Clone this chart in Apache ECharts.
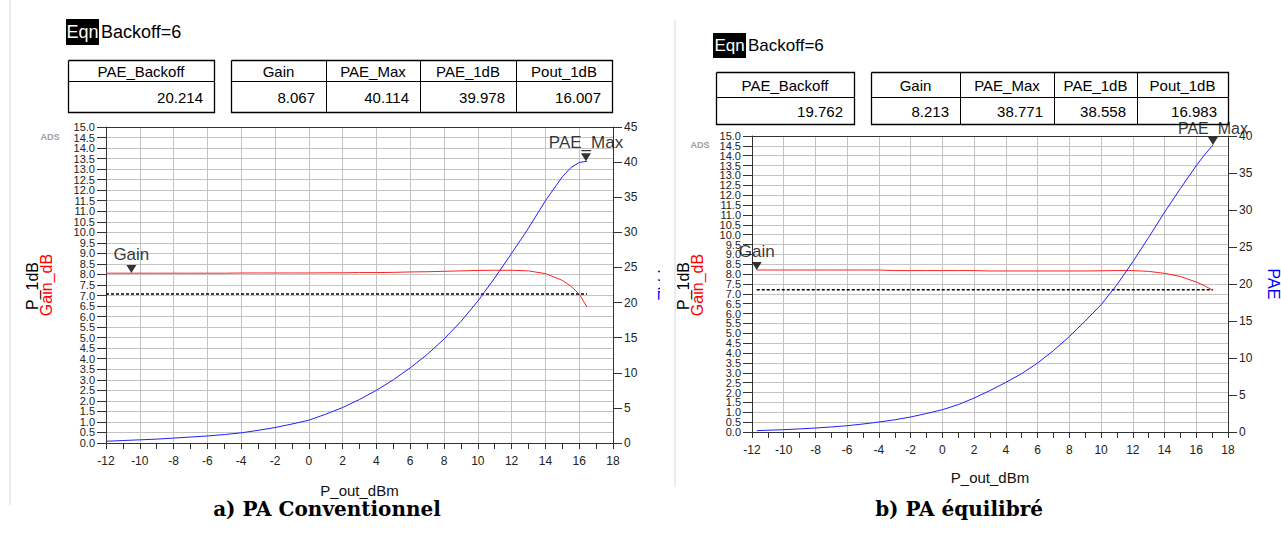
<!DOCTYPE html>
<html><head><meta charset="utf-8">
<script src="https://cdn.jsdelivr.net/npm/echarts@6/dist/echarts.min.js"></script>
<style>html,body{margin:0;padding:0;background:#fff}
#wrap{position:relative;width:1281px;height:550px}
#c1{position:absolute;left:0;top:0;width:660px;height:550px}
#c2{position:absolute;left:660px;top:0;width:621px;height:550px}</style>
</head><body><div id="wrap"><div id="c1"></div><div id="c2"></div></div>
<script>
// ---------- DATA ----------
// Left chart: a) PA Conventionnel
const xL    = [-12,-11,-10,-9,-8,-7,-6,-5,-4,-3,-2,-1,0,1,2,3,4,5,6,7,8,9,10,11,12,13,14,15,15.5,16,16.46];
const gainL = [8.06,8.06,8.06,8.06,8.06,8.06,8.06,8.06,8.07,8.07,8.07,8.07,8.07,8.08,8.08,8.09,8.09,8.1,8.12,8.13,8.15,8.17,8.19,8.2,8.2,8.17,8.04,7.72,7.45,7.07,6.46];
const paeL  = [0.25,0.35,0.45,0.55,0.7,0.85,1.0,1.2,1.45,1.8,2.2,2.7,3.25,4.1,5.05,6.2,7.5,9.0,10.7,12.6,14.8,17.3,20.2,23.5,27.0,30.6,34.5,37.9,39.2,39.95,40.11];
const p1dbL = [[-12,7.067],[16.46,7.067]];
const markL = [{name:'Gain',x:-10.5,y:8.067,axis:0},{name:'PAE_Max',x:16.4,y:40.114,axis:1}];
const tabHeadL1 = ['PAE_Backoff'];
const tabValL1  = ['20.214'];
const tabHeadL2 = ['Gain','PAE_Max','PAE_1dB','Pout_1dB'];
const tabValL2  = ['8.067','40.114','39.978','16.007'];

// Right chart: b) PA équilibré
const xR    = [-11.7,-11,-10,-9,-8,-7,-6,-5,-4,-3,-2,-1,0,1,2,3,4,5,6,7,8,9,10,11,12,13,14,15,16,16.5,17.05];
const gainR = [8.21,8.21,8.21,8.21,8.21,8.21,8.21,8.21,8.21,8.18,8.18,8.18,8.18,8.18,8.18,8.16,8.16,8.16,8.16,8.16,8.16,8.16,8.17,8.18,8.18,8.14,8.04,7.88,7.6,7.42,7.18];
const paeR  = [0.18,0.24,0.31,0.42,0.54,0.68,0.85,1.08,1.35,1.65,2.03,2.5,3.01,3.7,4.59,5.6,6.7,7.9,9.32,11.0,12.9,15.0,17.2,19.9,23.0,26.3,29.7,32.9,36.0,37.4,38.77];
const p1dbR = [[-11.7,7.213],[17.05,7.213]];
const markR = [{name:'Gain',x:-11.7,y:8.213,axis:0},{name:'PAE_Max',x:17.05,y:38.771,axis:1}];
const tabHeadR1 = ['PAE_Backoff'];
const tabValR1  = ['19.762'];
const tabHeadR2 = ['Gain','PAE_Max','PAE_1dB','Pout_1dB'];
const tabValR2  = ['8.213','38.771','38.558','16.983'];

// tick labels of the left (dB) axis
const yLeftLabels = ['0.0','0.5','1.0','1.5','2.0','2.5','3.0','3.5','4.0','4.5','5.0','5.5','6.0','6.5','7.0','7.5',
                     '8.0','8.5','9.0','9.5','10.0','10.5','11.0','11.5','12.0','12.5','13.0','13.5','14.0','14.5','15.0'];
const xTicks = {min:-12, max:18, interval:2};
const yLeftRange = {min:0, max:15};
const yRightL = {min:0, max:45, interval:5};
const yRightR = {min:0, max:40, interval:5};
const captions = ['a) PA Conventionnel','b) PA équilibré'];

// ---------- CHART ----------
const FF = 'Liberation Sans, Arial, sans-serif';
const GRIDC = '#c4c4c4';

function build(dom, cfg){
  const chart = echarts.init(dom, null, {renderer:'svg'});
  const G = [];
  const txt = (x,y,text,opt)=>{
    opt = opt||{};
    G.push({type:'text', x:x, y:y, rotation:opt.rot||0, z:100, silent:true,
      style:{text:text, fill:opt.fill||'#000', font:opt.font||('15px '+FF),
        align:opt.align||'center', verticalAlign:'middle'}});
  };
  const pline = (pts,color,lw)=>{
    G.push({type:'polyline', z:90, silent:true, shape:{points:pts}, style:{stroke:color, lineWidth:lw||1, fill:'none'}});
  };
  const box = (x,y,w,h,color,lw)=>pline([[x,y],[x+w,y],[x+w,y+h],[x,y+h],[x,y]], color, lw);
  const fillBox = (x,y,w,h,fill)=>{
    G.push({type:'polygon', z:90, silent:true, shape:{points:[[x,y],[x+w,y],[x+w,y+h],[x,y+h]]}, style:{fill:fill, stroke:'none'}});
  };
  const table = (x,top,div,bot,cols,heads,vals,fs)=>{
    const right = cols[cols.length-1];
    box(x+0.5, top+0.5, right-x, bot-top, '#000', 1.3);
    pline([[x, div+0.5],[right, div+0.5]], '#000', 1);
    let left = x;
    for(let i=0;i<heads.length;i++){
      const r = cols[i];
      if(i<heads.length-1) pline([[r+0.5, top],[r+0.5, bot]], '#000', 1);
      txt((left+r)/2, (top+div)/2+1, heads[i], {font:fs+'px '+FF});
      txt(r-11, (div+bot)/2+1, vals[i], {font:fs+'px '+FF, align:'right'});
      left = r;
    }
  };
  const g = cfg.grid;
  // faint panel edge
  pline([[cfg.edge[0], cfg.edge[1]],[cfg.edge[0], cfg.edge[2]]], '#ececec', 2);
  // top edge of plot box
  pline([[g.left, g.top+0.5],[g.left+g.width, g.top+0.5]], '#333', 1);
  // Eqn + tables
  fillBox(cfg.eqn[0], cfg.eqn[1], 33, cfg.eqn[2], '#000');
  txt(cfg.eqn[0]+16.5, cfg.eqn[1]+cfg.eqn[2]/2, 'Eqn', {fill:'#fff', font:cfg.eqnFs+'px '+FF});
  txt(cfg.eqn[0]+35, cfg.eqn[1]+cfg.eqn[2]/2, 'Backoff=6', {font:cfg.eqnFs+'px '+FF, align:'left'});
  table(cfg.t1[0], cfg.t1[1], cfg.t1[2], cfg.t1[3], cfg.t1[4], cfg.h1, cfg.v1, 15);
  table(cfg.t2[0], cfg.t2[1], cfg.t2[2], cfg.t2[3], cfg.t2[4], cfg.h2, cfg.v2, 15);
  // axis titles
  txt(cfg.yt[0], cfg.yt[2]+1, 'P_1dB', {font:'16px '+FF, rot:Math.PI/2});
  txt(cfg.yt[1], cfg.yt[2], 'Gain_dB', {font:'16px '+FF, rot:Math.PI/2, fill:'#ff0000'});
  txt(cfg.paeT[0], cfg.paeT[1], 'PAE', {font:'16px '+FF, rot:-Math.PI/2, fill:'#0000ff'});
  txt(cfg.ads[0], cfg.ads[1], 'ADS', {font:'bold 9px '+FF, fill:'#a0a0a0'});
  txt(cfg.cap[0], cfg.cap[1], cfg.caption, {font:'bold 20px DejaVu Serif, serif'});

  const series = [
    {type:'line', xAxisIndex:0, yAxisIndex:2, data:cfg.xs.map((x,i)=>[x,cfg.gain[i]]), showSymbol:false, symbol:'none',
      lineStyle:{color:'#ff2020', width:1}, z:4},
    {type:'line', xAxisIndex:0, yAxisIndex:1, data:cfg.xs.map((x,i)=>[x,cfg.pae[i]]), showSymbol:false, symbol:'none',
      lineStyle:{color:'#2020ff', width:1}, z:4},
    {type:'line', xAxisIndex:0, yAxisIndex:2, data:cfg.p1db, showSymbol:false, symbol:'none',
      lineStyle:{color:'#000', width:1.5, type:[3,2]}, z:3}
  ];
  cfg.marks.forEach(m=>{
    series.push({type:'scatter', xAxisIndex:0, yAxisIndex:(m.axis===0?2:1), data:[{value:[m.x,m.y], name:m.name}],
      symbol:'path://M0,0 L10,0 L5,8 Z', symbolSize:[10,8], symbolOffset:[0,-4], itemStyle:{color:'#000'},
      label:{show:true, position:'top', distance:(m.axis===1 ? cfg.pmDist : 2), formatter:'{b}',
             fontSize:(m.axis===1 ? cfg.pmFs : 17), color:'#000', fontFamily:FF}, z:5});
  });

  chart.setOption({
    animation:false,
    grid:[{left:g.left, top:g.top, width:g.width, height:g.height}],
    xAxis:[{type:'value', min:xTicks.min, max:xTicks.max, interval:xTicks.interval,
      axisLine:{show:true, onZero:false, lineStyle:{color:'#333'}},
      axisTick:{show:true, length:6, lineStyle:{color:'#333'}},
      minorTick:{show:true, splitNumber:2, length:6, lineStyle:{color:'#333'}},
      axisLabel:{fontSize:12, color:'#222', margin:12, fontFamily:FF},
      splitLine:{show:true, lineStyle:{color:GRIDC}},
      name:'P_out_dBm', nameLocation:'middle', nameGap:cfg.nameGap,
      nameTextStyle:{fontSize:15, color:'#111', fontFamily:FF}}],
    yAxis:[
      {type:'category', data:yLeftLabels, position:'left', boundaryGap:false,
        axisLine:{show:true, onZero:false, lineStyle:{color:'#333'}},
        axisTick:{show:true, interval:0, length:9, lineStyle:{color:'#333'}},
        axisLabel:{interval:0, fontSize:11, lineHeight:6, color:'#222', margin:11, fontFamily:FF},
        splitLine:{show:true, interval:0, lineStyle:{color:GRIDC}}},
      {type:'value', position:'right', min:cfg.yr.min, max:cfg.yr.max, interval:cfg.yr.interval,
        axisLine:{show:true, onZero:false, lineStyle:{color:'#333'}},
        axisTick:{show:true, length:9, lineStyle:{color:'#333'}},
        axisLabel:{fontSize:12, color:'#222', margin:11, fontFamily:FF},
        splitLine:{show:false}},
      {type:'value', min:yLeftRange.min, max:yLeftRange.max, show:false, splitLine:{show:false}}
    ],
    series:series,
    graphic:G
  });
  return chart;
}

build(document.getElementById('c1'), {
  grid:{left:106, top:127, width:507, height:316}, edge:[10,0,505],
  eqn:[66,19,26], eqnFs:18,
  t1:[68,60,81,112,[214]], t2:[231,60,81,112,[326,420,516,612]],
  h1:tabHeadL1, v1:tabValL1, h2:tabHeadL2, v2:tabValL2,
  yt:[32,46,285], paeT:[663,285], ads:[50,137], cap:[327,509], caption:captions[0],
  xs:xL, gain:gainL, pae:paeL, p1db:p1dbL, marks:markL, yr:yRightL, nameGap:40, pmFs:17, pmDist:2
});
build(document.getElementById('c2'), {
  grid:{left:92, top:136, width:476, height:296}, edge:[15,20,487],
  eqn:[53,33,25], eqnFs:17,
  t1:[56,72,97,124,[194]], t2:[211,72,97,124,[300,394,477,568]],
  h1:tabHeadR1, v1:tabValR1, h2:tabHeadR2, v2:tabValR2,
  yt:[23,37,285], paeT:[613,284], ads:[40,145], cap:[299,509], caption:captions[1],
  xs:xR, gain:gainR, pae:paeR, p1db:p1dbR, marks:markR, yr:yRightR, nameGap:38, pmFs:16, pmDist:1
});
</script>
</body></html>
